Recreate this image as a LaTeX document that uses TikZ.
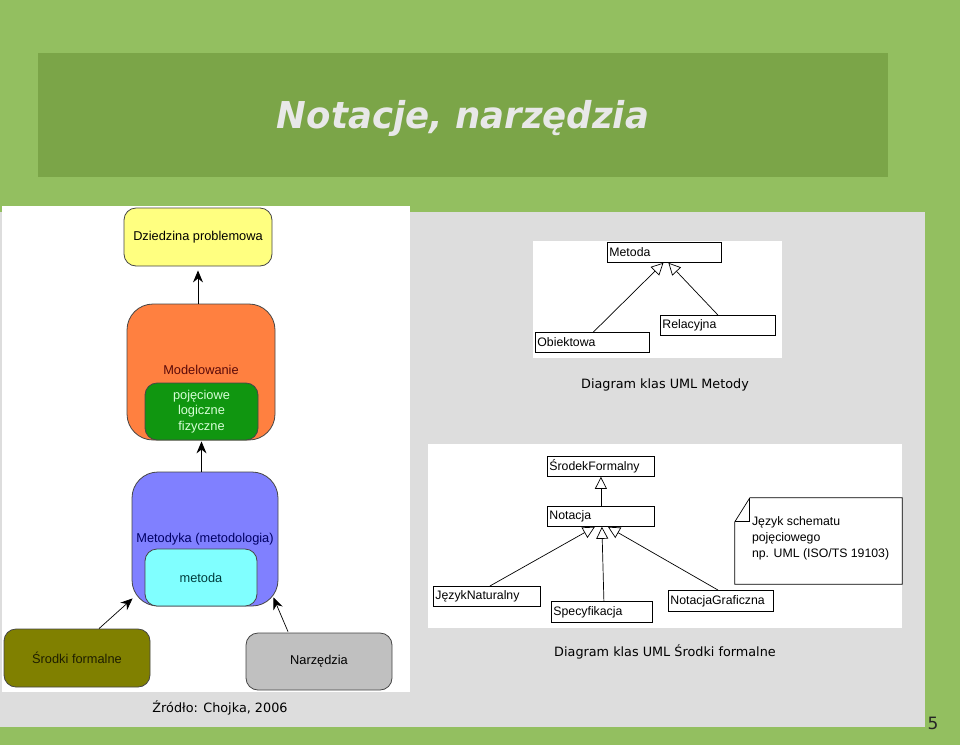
\documentclass[tikz,border=0pt]{standalone}
\usepackage{fontspec}
\setmainfont{Liberation Sans}
\newfontfamily\tahoma{DejaVu Sans}
\newfontfamily\titlefont[FakeStretch=0.96]{DejaVu Sans}
\usetikzlibrary{arrows.meta,calc}
\definecolor{bggreen}{RGB}{147,191,96}
\definecolor{bargreen}{RGB}{123,165,72}
\definecolor{panelgray}{RGB}{221,221,221}
\definecolor{titlewhite}{RGB}{232,232,232}
\definecolor{cyellow}{RGB}{255,255,128}
\definecolor{corange}{RGB}{255,128,64}
\definecolor{cgreen}{RGB}{16,150,16}
\definecolor{cblue}{RGB}{128,128,255}
\definecolor{ccyan}{RGB}{128,255,255}
\definecolor{colive}{RGB}{128,128,0}
\definecolor{cgray}{RGB}{192,192,192}
\definecolor{edgegray}{RGB}{70,70,70}
\tikzset{
  rbox/.style={draw=edgegray, line width=0.8pt, rounded corners=12pt, inner sep=0pt,
    font=\fontsize{12.8}{15}\selectfont, align=center},
  bigbox/.style={rbox, rounded corners=26pt},
  blackarrow/.style={draw=black, line width=1pt, -{Stealth[length=12pt,width=10pt]}},
  thinarrow/.style={draw=black, line width=0.7pt, -{Stealth[length=12pt,width=10pt]}},
  umlbox/.style={draw=black, line width=0.8pt, inner xsep=2pt, inner ysep=0pt, align=left,
    font=\fontsize{12.3}{15}\selectfont},
  gen/.style={draw=black, line width=0.7pt, -{Triangle[open,length=12pt,width=12pt]}},
  caption/.style={font=\tahoma\fontsize{12.8}{15}\selectfont, text=black}
}
\begin{document}
\begin{tikzpicture}[x=1pt,y=-1pt]
% background
\fill[bggreen] (0,0) rectangle (960,745);
\useasboundingbox (0,0) rectangle (960,745);
\fill[bargreen] (38,53) rectangle (888,177);
\node[font=\titlefont\bfseries\itshape\fontsize{37}{40}\selectfont, text=titlewhite] (title) at (463,118) {Notacje, narzędzia};
% gray panel
\fill[panelgray] (0,212) rectangle (925,727);
% white images
\fill[white] (2,206) rectangle (410,692);
\fill[white] (533,241) rectangle (782,358);
\fill[white] (428,444) rectangle (902,628);

% ---------- left diagram ----------
\node[rbox, fill=cyellow, minimum width=148pt, minimum height=58pt] (dz) at (198,237) {Dziedzina problemowa};
\node[bigbox, fill=corange, minimum width=148pt, minimum height=136pt] (model) at (201,372) {};
\node[font=\fontsize{12.8}{15}\selectfont, text={rgb,255:red,90;green,10;blue,10}] (modeltxt) at (201,370) {Modelowanie};
\node[rbox, fill=cgreen, minimum width=113pt, minimum height=57pt, text={rgb,255:red,215;green,255;blue,215},
  font=\fontsize{12.8}{15.2}\selectfont] (green) at (201.5,411.5) {pojęciowe\\logiczne\\fizyczne};
\node[bigbox, fill=cblue, minimum width=146pt, minimum height=134pt] (metodyka) at (205,539) {};
\node[font=\fontsize{12.8}{15}\selectfont, text={rgb,255:red,0;green,0;blue,100}] (metodykatxt) at (205,539) {Metodyka (metodologia)};
\node[rbox, fill=ccyan, minimum width=112pt, minimum height=57pt, text={rgb,255:red,0;green,60;blue,60}] (metoda) at (201,577.5) {metoda};
\node[rbox, fill=colive, minimum width=146pt, minimum height=58pt, text={rgb,255:red,30;green,30;blue,0}] (srodki) at (77,658) {Środki formalne};
\node[rbox, fill=cgray, minimum width=146pt, minimum height=57pt] (narz) at (319,661.5) {Narzędzia};

\draw[blackarrow] (model.north -| dz.south) -- ($(dz.south)+(0,4)$);
\draw[blackarrow] ($(metodyka.north -| green.south)+(0,0)$) -- ($(green.south)+(0,1)$);
\draw[thinarrow] ($(srodki.north)+(22,0)$) -- ($(metodyka.south west)+(1,-8)$);
\draw[thinarrow] ($(narz.north)+(-31,-1)$) -- ($(metodyka.south east)+(-5,-9)$);

% ---------- UML Metody ----------
\node[umlbox, text width=110pt, minimum height=20pt, anchor=north west] (mMetoda) at (607,242) {Metoda};
\node[umlbox, text width=110pt, minimum height=20pt, anchor=north west] (mObj) at (535,332) {Obiektowa};
\node[umlbox, text width=111pt, minimum height=20pt, anchor=north west] (mRel) at (660,315) {Relacyjna};
\draw[gen] ($(mObj.north)+(1,0)$) -- ($(mMetoda.south)+(-1,0)$);
\draw[gen] (mRel.north) -- ($(mMetoda.south)+(4,0)$);
\node[caption] (cap1) at (665,385) {Diagram klas UML Metody};

% ---------- UML Srodki formalne ----------
\node[umlbox, text width=103pt, minimum height=20pt, anchor=north west] (sF) at (547,456) {ŚrodekFormalny};
\node[umlbox, text width=103pt, minimum height=20pt, anchor=north west] (sN) at (547,506) {Notacja};
\node[umlbox, text width=103pt, minimum height=20pt, anchor=north west] (sJN) at (433,586) {JęzykNaturalny};
\node[umlbox, text width=97pt, minimum height=21pt, anchor=north west] (sSp) at (551,601) {Specyfikacja};
\node[umlbox, text width=101pt, minimum height=21pt, anchor=north west] (sNG) at (668,590) {NotacjaGraficzna};
\draw[gen] (sN.north) -- (sF.south);
\draw[gen] ($(sJN.north)+(3,0)$) -- ($(sN.south)+(-6,0)$);
\draw[gen] ($(sSp.north)+(2,0)$) -- ($(sN.south)+(1,0)$);
\draw[gen] ($(sNG.north)+(-3,0)$) -- ($(sN.south)+(7,0)$);
% note
\node[inner sep=0pt, minimum width=167pt, minimum height=86pt] (note) at (818.5,541) {};
\coordinate (foldTop) at ($(note.north west)+(15,0)$);
\coordinate (foldLeft) at ($(note.north west)+(0,24)$);
\coordinate (foldIn) at ($(note.north west)+(15,24)$);
\draw[black, line width=0.7pt] (foldTop) -- (note.north east) -- (note.south east) -- (note.south west) -- (foldLeft) -- cycle;
\draw[black, line width=0.7pt] (foldLeft) -- (foldIn) -- (foldTop);
\node[anchor=north west, align=left, inner sep=0pt, font=\fontsize{12.3}{16}\selectfont] (notetxt) at ($(note.north west)+(17,19)$) {Język schematu\\pojęciowego\\np. UML (ISO/TS 19103)};
\node[caption] (cap2) at (665,652) {Diagram klas UML Środki formalne};

% source and page number
\node[caption] (src) at (220,708) {Źródło: Chojka, 2006};
\node[font=\tahoma\fontsize{17}{19}\selectfont, text=black!85] (pg) at (933,723) {5};
\end{tikzpicture}
\end{document}
